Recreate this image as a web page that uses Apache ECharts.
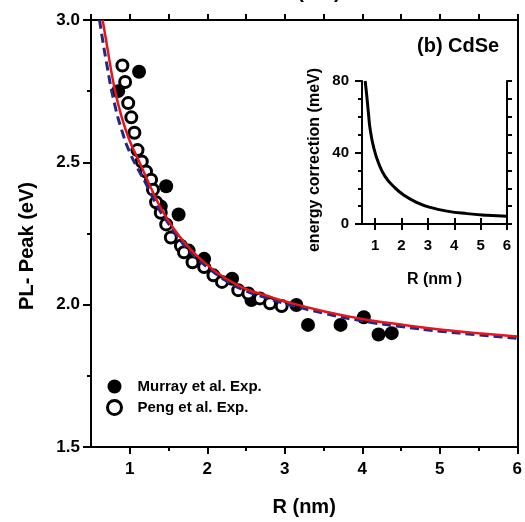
<!DOCTYPE html>
<html>
<head>
<meta charset="utf-8">
<script src="https://cdn.jsdelivr.net/npm/echarts@6/dist/echarts.min.js"></script>
<style>
  html, body { margin: 0; padding: 0; background: #fff; }
  #chart { width: 525px; height: 522px; }
</style>
</head>
<body>
<div id="chart"></div>
<script>
// main panel: PL peak vs radius (CdSe)
const murrayR = [0.85, 1.12, 1.40, 1.47, 1.63, 1.76, 1.96, 2.32, 2.57, 3.15, 3.30, 3.72, 4.02, 4.21, 4.38]
const murrayE = [2.75, 2.818, 2.345, 2.416, 2.317, 2.19, 2.161, 2.091, 2.016, 1.999, 1.929, 1.929, 1.956, 1.895, 1.90]

const pengR = [0.905, 0.94, 0.98, 1.02, 1.06, 1.10, 1.155, 1.21, 1.275, 1.30, 1.34, 1.40, 1.47, 1.53, 1.66, 1.70, 1.81, 1.96, 2.08, 2.19, 2.40, 2.53, 2.68, 2.81, 2.96]
const pengE = [2.84, 2.782, 2.708, 2.658, 2.604, 2.543, 2.503, 2.468, 2.439, 2.404, 2.36, 2.323, 2.282, 2.236, 2.207, 2.184, 2.149, 2.132, 2.103, 2.08, 2.051, 2.039, 2.022, 2.005, 1.995]

// theory curves
const redR = [0.65, 0.7, 0.8, 0.9, 1.0, 1.1, 1.2, 1.3, 1.4, 1.5, 1.6, 1.8, 2.0, 2.25, 2.5, 2.75, 3.0, 3.5, 4.0, 4.5, 5.0, 5.5, 6.0]
const redE = [3.0, 2.92, 2.765, 2.655, 2.575, 2.515, 2.455, 2.395, 2.34, 2.295, 2.255, 2.19, 2.14, 2.09, 2.055, 2.033, 2.012, 1.977, 1.95, 1.93, 1.913, 1.90, 1.888]
const blueR = [0.61, 0.7, 0.8, 0.9, 1.0, 1.1, 1.2, 1.3, 1.4, 1.5, 1.6, 1.8, 2.0, 2.25, 2.5, 2.75, 3.0, 3.5, 4.0, 4.5, 5.0, 5.5, 6.0]
const blueE = [3.0, 2.85, 2.71, 2.61, 2.535, 2.48, 2.43, 2.375, 2.325, 2.285, 2.245, 2.18, 2.132, 2.083, 2.048, 2.025, 2.004, 1.97, 1.943, 1.923, 1.907, 1.894, 1.882]

// inset: energy correction (meV)
const corrR = [0.62, 0.686, 0.75, 0.81, 0.94, 1.13, 1.38, 1.7, 2.08, 2.59, 3.09, 3.73, 4.49, 5.25, 6.0]
const corrV = [80, 71, 61, 53, 43, 34, 26.5, 21, 16.2, 12, 9.3, 7.2, 5.8, 4.9, 4.3]

// tick values
const mainXLabels = [1, 2, 3, 4, 5, 6]
const mainXMinor = [1.5, 2.5, 3.5, 4.5, 5.5]
const insetXTicks = [1, 2, 3, 4, 5, 6]

const font = '"Liberation Sans", Arial, sans-serif'
const zip = (a, b) => a.map((v, i) => [v, b[i]])
const axisLine = { show: true, lineStyle: { color: '#000', width: 2 } }
const noSplit = { show: false }

const chart = echarts.init(document.getElementById('chart'))

chart.setOption({
  animation: false,
  title: {
    text: '(b) CdSe',
    left: 412,
    top: 31,
    textStyle: { fontFamily: font, fontWeight: 'bold', fontSize: 20, color: '#000' }
  },
  legend: {
    orient: 'vertical',
    left: 106,
    top: 379,
    padding: 0,
    itemWidth: 14,
    itemHeight: 14,
    itemGap: 5,
    textStyle: { fontFamily: font, fontWeight: 'bold', fontSize: 15, color: '#000', padding: [0, 0, 0, 11] },
    data: [
      { name: 'Murray et al. Exp.', icon: 'circle', itemStyle: { color: '#000', opacity: 1 } },
      { name: 'Peng et al. Exp.', icon: 'circle', itemStyle: { color: '#fff', borderColor: '#000', borderWidth: 3, opacity: 1 } }
    ]
  },
  grid: [
    { left: 91, right: 3, top: 20, bottom: 70 },
    { left: 362, top: 81, width: 145, height: 143 }
  ],
  xAxis: [
    {
      gridIndex: 0, type: 'value', position: 'bottom', min: 0.5, max: 6,
      axisLine,
      splitLine: noSplit,
      axisTick: { customValues: mainXLabels, length: 7, lineStyle: { width: 2, color: '#000' } },
      axisLabel: { customValues: mainXLabels, margin: 14, fontFamily: font, fontWeight: 'bold', fontSize: 17, color: '#000' },
      name: 'R (nm)', nameLocation: 'middle', nameGap: 50,
      nameTextStyle: { fontFamily: font, fontWeight: 'bold', fontSize: 20, color: '#000' }
    },
    {
      gridIndex: 0, type: 'value', position: 'bottom', min: 0.5, max: 6,
      axisLine: { show: false },
      splitLine: noSplit,
      axisTick: { customValues: mainXMinor, length: 4, lineStyle: { width: 2, color: '#000' } },
      axisLabel: { show: false }
    },
    {
      gridIndex: 0, type: 'value', position: 'top', min: 0.5, max: 6, interval: 0.5,
      axisLine,
      splitLine: noSplit,
      axisTick: { length: 6, lineStyle: { width: 2, color: '#000' } },
      axisLabel: { show: false }
    },
    {
      gridIndex: 1, type: 'value', position: 'bottom', min: 0.5, max: 6,
      axisLine,
      splitLine: noSplit,
      axisTick: { customValues: insetXTicks, length: 6, lineStyle: { width: 2, color: '#000' } },
      axisLabel: { customValues: insetXTicks, margin: 14, fontFamily: font, fontWeight: 'bold', fontSize: 15, color: '#000' },
      name: 'R (nm )', nameLocation: 'middle', nameGap: 48,
      nameTextStyle: { fontFamily: font, fontWeight: 'bold', fontSize: 16, color: '#000' }
    },
    {
      gridIndex: 1, type: 'value', position: 'top', min: 0.5, max: 6,
      axisLine,
      splitLine: noSplit,
      axisTick: { customValues: insetXTicks, length: 6, lineStyle: { width: 2, color: '#000' } },
      axisLabel: { show: false }
    }
  ],
  yAxis: [
    {
      gridIndex: 0, type: 'value', position: 'left', min: 1.5, max: 3, interval: 0.5,
      axisLine,
      splitLine: noSplit,
      axisTick: { length: 8, lineStyle: { width: 2, color: '#000' } },
      minorTick: { show: true, splitNumber: 2, length: 4, lineStyle: { width: 2, color: '#000' } },
      minorSplitLine: { show: false },
      axisLabel: { margin: 11, formatter: v => v.toFixed(1), fontFamily: font, fontWeight: 'bold', fontSize: 17, color: '#000' }
    },
    {
      gridIndex: 0, type: 'value', position: 'right', min: 1.5, max: 3,
      axisLine,
      splitLine: noSplit,
      axisTick: { show: false },
      axisLabel: { show: false }
    },
    {
      gridIndex: 1, type: 'value', position: 'left', min: 0, max: 80, interval: 40,
      axisLine,
      splitLine: noSplit,
      axisTick: { length: 7, lineStyle: { width: 2, color: '#000' } },
      minorTick: { show: true, splitNumber: 4, length: 4, lineStyle: { width: 2, color: '#000' } },
      minorSplitLine: { show: false },
      axisLabel: { margin: 13, fontFamily: font, fontWeight: 'bold', fontSize: 15, color: '#000' }
    },
    {
      gridIndex: 1, type: 'value', position: 'right', min: 0, max: 80, interval: 10,
      axisLine,
      splitLine: noSplit,
      axisTick: { length: 5, lineStyle: { width: 2, color: '#000' } },
      axisLabel: { show: false }
    }
  ],
  graphic: [
    {
      type: 'text', x: 27, y: 246, rotation: Math.PI / 2,
      style: { text: 'PL- Peak (eV)', align: 'center', verticalAlign: 'middle', font: 'bold 20px ' + font, fill: '#000' }
    },
    {
      type: 'text', x: 315, y: 160, rotation: Math.PI / 2,
      style: { text: 'energy correction (meV)', align: 'center', verticalAlign: 'middle', font: 'bold 16px ' + font, fill: '#000' }
    },
    {
      // cut-off axis title of the panel above
      type: 'text', x: 309, y: 2,
      style: { text: 'R (nm)', align: 'center', verticalAlign: 'bottom', font: 'bold 20px ' + font, fill: '#000' }
    }
  ],
  series: [
    {
      name: 'Murray et al. Exp.', type: 'scatter', xAxisIndex: 0, yAxisIndex: 0,
      data: zip(murrayR, murrayE), symbol: 'circle', symbolSize: 14,
      itemStyle: { color: '#000', opacity: 1 }, z: 2
    },
    {
      name: 'Peng et al. Exp.', type: 'scatter', xAxisIndex: 0, yAxisIndex: 0,
      data: zip(pengR, pengE), symbol: 'circle', symbolSize: 11,
      itemStyle: { color: '#fff', borderColor: '#000', borderWidth: 3, opacity: 1 }, z: 3
    },
    {
      name: 'theory dashed', type: 'line', xAxisIndex: 0, yAxisIndex: 0,
      data: zip(blueR, blueE), smooth: true, showSymbol: false,
      lineStyle: { color: '#1f2a80', width: 3, type: [9, 5] }, z: 4
    },
    {
      name: 'theory', type: 'line', xAxisIndex: 0, yAxisIndex: 0,
      data: zip(redR, redE), smooth: true, showSymbol: false,
      lineStyle: { color: '#e8141c', width: 2.5 }, z: 5
    },
    {
      name: 'correction', type: 'line', xAxisIndex: 3, yAxisIndex: 2,
      data: zip(corrR, corrV), smooth: true, showSymbol: false,
      lineStyle: { color: '#000', width: 3 }, z: 5
    }
  ]
})
</script>
</body>
</html>
